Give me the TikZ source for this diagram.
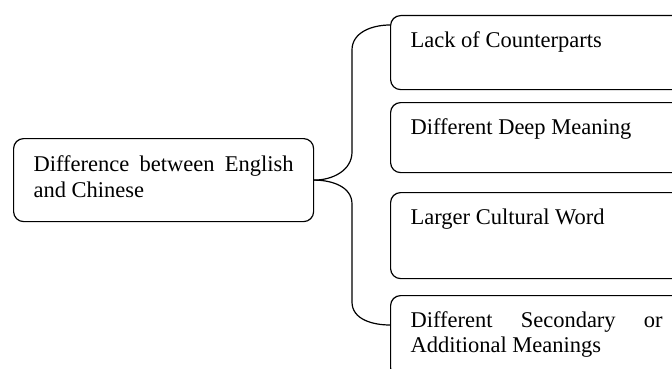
\documentclass[tikz,border=0pt]{standalone}
\usepackage{fontspec}
\setmainfont{Liberation Serif}
\usepackage{tikz}
\usetikzlibrary{calc}

\newcommand{\boxtext}[3]{\parbox[c][#1][t]{#2}{\tolerance=9999\hyphenpenalty=10000 #3}}

\begin{document}
\begin{tikzpicture}[x=1pt,y=-1pt,line width=1.2pt,
                    main box/.style={draw,rounded corners=10pt,inner xsep=20pt,inner ysep=16pt,anchor=north west,
                                     font=\fontsize{22.5}{25.5}\selectfont}]

  \useasboundingbox (0,0) rectangle (672,369);
  \clip (0,0) rectangle (672,369);

  \node[main box,inner ysep=17.5pt] (root) at (13,138) {\boxtext{48pt}{260pt}{Difference between English and Chinese}};
  \node[main box] (lack) at (390,15) {\boxtext{42pt}{252pt}{Lack of Counterparts}};
  \node[main box] (deep) at (390,102) {\boxtext{38pt}{252pt}{Different Deep Meaning}};
  \node[main box] (word) at (390,192) {\boxtext{54pt}{252pt}{Larger Cultural Word}};
  \node[main box] (extra) at (390,295) {\boxtext{50pt}{252pt}{Different Secondary or Additional Meanings}};

  % brace from the root to the first and last box
  \draw (root.east) to[out=0,in=-90] (352,152) -- (352,50)
        to[out=90,in=180] ($(lack.north west)+(0,10)$);
  \draw (root.east) to[out=0,in=90] (352,204) -- (352,302)
        to[out=-90,in=180] ($(extra.north west)+(0,30)$);
\end{tikzpicture}
\end{document}
